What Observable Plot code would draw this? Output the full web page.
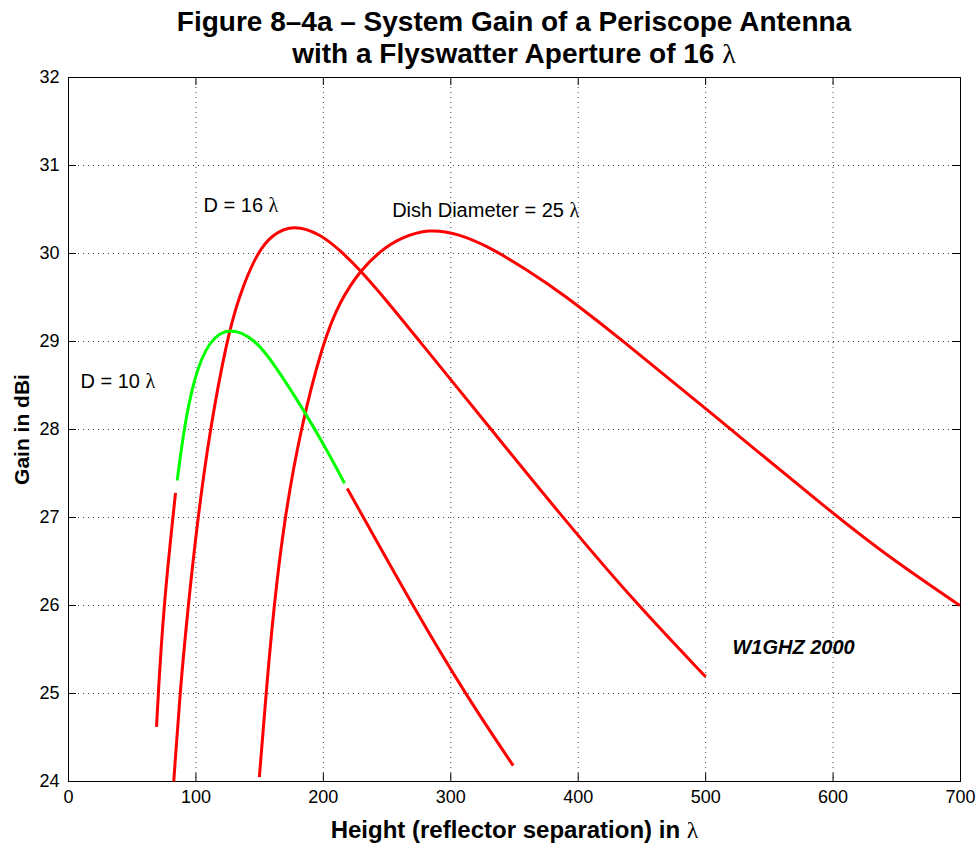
<!DOCTYPE html>
<html>
<head>
<meta charset="utf-8">
<script src="https://cdn.jsdelivr.net/npm/d3@7"></script>
<script src="https://cdn.jsdelivr.net/npm/@observablehq/plot@0.6"></script>
<style>
  html, body { margin: 0; padding: 0; background: #fff; }
  #wrap { position: relative; width: 977px; height: 843px; font-family: "Liberation Sans", Arial, Helvetica, sans-serif; }
  #title { position: absolute; left: 51px; top: 6px; width: 926px; text-align: center;
           font-weight: bold; font-size: 28px; line-height: 32px; color: #000; }
  .lam { font-family: "Liberation Serif", "DejaVu Serif", serif; font-weight: normal; }
</style>
</head>
<body>
<div id="wrap">
  <div id="title">Figure 8–4a – System Gain of a Periscope Antenna<br>with a Flyswatter Aperture of 16 <span class="lam">λ</span></div>
</div>
<script>
// ---- Data ----
const xTicks = [0, 100, 200, 300, 400, 500, 600, 700];
const yTicks = [24, 25, 26, 27, 28, 29, 30, 31, 32];

// D = 10 λ : red lower-left part
const d10LeftX = [69.1, 70.4, 74.8, 81.9, 84.0];
const d10LeftY = [24.62, 25.0, 26.0, 27.0, 27.28];
// D = 10 λ : green middle part
const d10MidX = [85.3, 90.5, 98.3, 110.1, 127.1, 146.7, 161.1, 184.7, 203, 216.6];
const d10MidY = [27.42, 28.0, 28.58, 29.02, 29.17, 29.02, 28.75, 28.22, 27.76, 27.39];
// D = 10 λ : red lower-right part
const d10RightX = [218.7, 231.5, 270, 311, 349];
const d10RightY = [27.33, 27.0, 26.0, 25.0, 24.18];
// D = 16 λ
const d16X = [82.6, 87.4, 93.9, 101.5, 111, 124, 133.4, 147.5, 160, 176.8, 197.8, 213.4, 226.5, 250, 276.2, 299.8, 331.2, 386.1, 443.6, 500];
const d16Y = [24.0, 25.0, 26.0, 27.0, 28.0, 29.0, 29.5, 30.0, 30.22, 30.33, 30.22, 30.03, 29.85, 29.46, 28.99, 28.57, 28.01, 27.03, 26.05, 25.19];
// D = 25 λ
const d25X = [149.8, 155.0, 161.2, 169.6, 182, 199.8, 213.4, 229.1, 244.8, 260.5, 283, 305, 331.2, 360, 386.1, 433.2, 500, 600, 647.6, 699.5];
const d25Y = [24.05, 25.0, 26.0, 27.0, 28.0, 29.0, 29.47, 29.81, 30.03, 30.18, 30.28, 30.23, 30.07, 29.81, 29.56, 29.03, 28.24, 27.04, 26.51, 26.0];

// Annotations
const labelText = ["D = 10 λ", "D = 16 λ", "Dish Diameter = 25 λ"];
const labelX = [9.4, 106, 254];
const labelY = [28.55, 30.55, 30.49];
const creditText = ["W1GHZ 2000"];
const creditX = [521];
const creditY = [25.52];

// ---- Build tables ----
const zip = (xs, ys) => xs.map((x, i) => ({x, y: ys[i]}));
const d10Left = zip(d10LeftX, d10LeftY);
const d10Mid = zip(d10MidX, d10MidY);
const d10Right = zip(d10RightX, d10RightY);
const d16 = zip(d16X, d16Y);
const d25 = zip(d25X, d25Y);
const labels = labelText.map((t, i) => ({t, x: labelX[i], y: labelY[i]}));
const credit = creditText.map((t, i) => ({t, x: creditX[i], y: creditY[i]}));

const W = 977, H = 843;
const mL = 68, mR = 17, mT = 77, mB = 62;
const fw = W - mL - mR, fh = H - mT - mB;
const tickLen = 8;
const line = {x: "x", y: "y", strokeWidth: 3, curve: "basis", strokeLinecap: "butt"};

const chart = Plot.plot({
  width: W, height: H,
  marginLeft: mL, marginRight: mR, marginTop: mT, marginBottom: mB,
  style: {fontFamily: "'Liberation Sans', Arial, Helvetica, sans-serif", fontSize: "18px", background: "#fff", color: "#000"},
  x: {domain: [0, 700]},
  y: {domain: [24, 32]},
  marks: [
    Plot.gridX(xTicks.slice(1, -1), {stroke: "#000", strokeOpacity: 0.75, strokeDasharray: "1,4"}),
    Plot.gridY(yTicks.slice(1, -1), {stroke: "#000", strokeOpacity: 0.75, strokeDasharray: "1,4"}),
    Plot.tickX(xTicks, {x: d => d, insetTop: fh - tickLen, stroke: "#000"}),
    Plot.tickX(xTicks, {x: d => d, insetBottom: fh - tickLen, stroke: "#000"}),
    Plot.tickY(yTicks, {y: d => d, insetRight: fw - tickLen, stroke: "#000"}),
    Plot.tickY(yTicks, {y: d => d, insetLeft: fw - tickLen, stroke: "#000"}),
    Plot.axisX(xTicks, {tickSize: 0, tickPadding: 9, fontSize: 18, label: null, tickFormat: d => String(d)}),
    Plot.axisY(yTicks, {tickSize: 0, tickPadding: 9, fontSize: 18, label: null, tickFormat: d => String(d)}),
    Plot.frame({stroke: "#000", strokeWidth: 1}),
    Plot.line(d16, {...line, stroke: "#ff0000"}),
    Plot.line(d25, {...line, stroke: "#ff0000"}),
    Plot.line(d10Left, {...line, stroke: "#ff0000"}),
    Plot.line(d10Right, {...line, stroke: "#ff0000"}),
    Plot.line(d10Mid, {...line, stroke: "#00ff00"}),
    Plot.text(labels, {x: "x", y: "y", text: "t", textAnchor: "start", fontSize: 20, fill: "#000"}),
    Plot.text(credit, {x: "x", y: "y", text: "t", textAnchor: "start", fontSize: 20, fontWeight: "bold", fontStyle: "italic", fill: "#000"}),
    Plot.text(["Height (reflector separation) in λ"], {frameAnchor: "bottom", dy: 49, lineAnchor: "middle", textAnchor: "middle", fontSize: 24, fontWeight: "bold", fill: "#000"}),
    Plot.text(["Gain in dBi"], {frameAnchor: "left", dx: -46, rotate: -90, textAnchor: "middle", lineAnchor: "middle", fontSize: 21, fontWeight: "bold", fill: "#000"})
  ]
});
// render the λ glyphs in a regular serif face, as in the reference
d3.select(chart).selectAll("text").each(function() {
  const t = this.textContent;
  if (this.children.length === 0 && t.includes("λ")) {
    const parts = t.split("λ");
    this.textContent = "";
    parts.forEach((p, i) => {
      if (p) this.appendChild(document.createTextNode(p));
      if (i < parts.length - 1) {
        const ts = document.createElementNS("http://www.w3.org/2000/svg", "tspan");
        ts.setAttribute("class", "lam");
        ts.textContent = "λ";
        this.appendChild(ts);
      }
    });
  }
});
chart.style.position = "absolute";
chart.style.left = "0px";
chart.style.top = "0px";
const wrap = document.getElementById("wrap");
wrap.insertBefore(chart, wrap.firstChild);
</script>
</body>
</html>
